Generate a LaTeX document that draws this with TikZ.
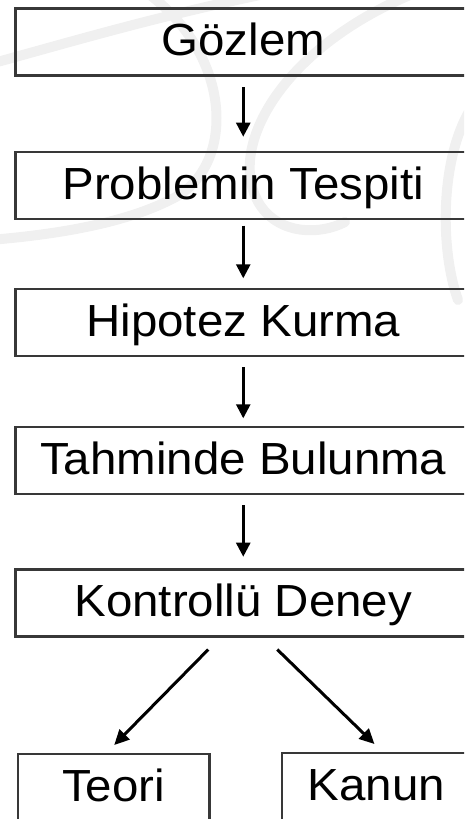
\documentclass[tikz,border=0pt]{standalone}
\usepackage{fontspec}
\setmainfont{Liberation Sans}[FakeStretch=1.055]
\usetikzlibrary{arrows.meta}
\definecolor{boxgray}{HTML}{383838}
\definecolor{wmark}{HTML}{F0F0F0}
\tikzset{
  stepbox/.style={draw=boxgray, line width=2.5pt, inner sep=0pt, anchor=north west,
    text height=47.3pt, text depth=19.7pt, font=\fontsize{45}{50}\selectfont},
  mainbox/.style={stepbox, minimum width=456pt},
  arr/.style={line width=2.6pt, -{Triangle[length=14pt,width=14pt]}},
  darr/.style={line width=3pt, -{Triangle[length=15pt,width=14pt]}},
  wm/.style={draw=wmark, line width=10pt, line cap=round}
}
\begin{document}
\begin{tikzpicture}[x=1pt,y=1pt]
\useasboundingbox (0,0) rectangle (464,-819);
\clip (0,0) rectangle (464,-819);
% faint watermark swooshes
\draw[wm] (-10,-64) .. controls (60,-45) and (150,-18) .. (260,5);
\draw[wm] (150,5) .. controls (235,-60) and (235,-170) .. (170,-200) .. controls (120,-225) and (50,-235) .. (-10,-240);
\draw[wm] (410,5) .. controls (280,-50) and (225,-150) .. (260,-205) .. controls (280,-235) and (320,-235) .. (345,-222);
\draw[wm] (470,-110) .. controls (440,-160) and (440,-250) .. (458,-300);
% boxes
\node[mainbox] (g) at (14,-7.3) {Gözlem};
\node[mainbox] (p) at (14,-150.7) {Problemin Tespiti};
\node[mainbox] (h) at (14,-287.8) {Hipotez Kurma};
\node[mainbox] (t) at (14,-425.7) {Tahminde Bulunma};
\node[mainbox] (k) at (14,-568.3) {Kontrollü Deney};
\node[stepbox, minimum width=191.3pt] (teori) at (16.7,-752.7) {Teori};
\node[stepbox, minimum width=189pt] (kanun) at (280.7,-751.7) {Kanun};
% arrows
\draw[arr] ([yshift=-10.6pt]g.south) -- ([yshift=14pt]p.north);
\draw[arr] ([yshift=-5.4pt]p.south) -- ([yshift=9.5pt]h.north);
\draw[arr] ([yshift=-10pt]h.south) -- ([yshift=7.4pt]t.north);
\draw[arr] ([yshift=-10pt]t.south) -- ([yshift=11.6pt]k.north);
\draw[darr] ([xshift=-35pt,yshift=-11.7pt]k.south) -- ([xshift=0.6pt,yshift=7.7pt]teori.north);
\draw[darr] ([xshift=34pt,yshift=-11.7pt]k.south) -- ([xshift=-2pt,yshift=7.7pt]kanun.north);
\end{tikzpicture}
\end{document}
